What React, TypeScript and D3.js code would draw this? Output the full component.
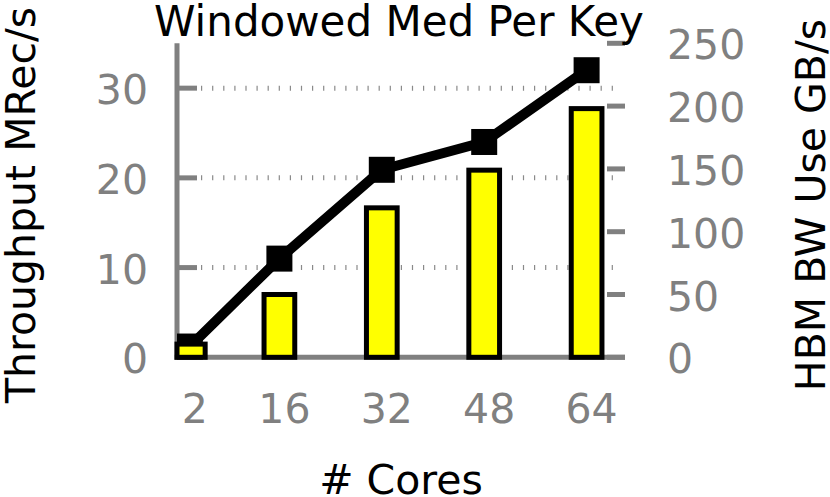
import * as d3 from "d3";
import { useEffect, useRef } from "react";

const cores = [2, 16, 32, 48, 64];
const throughput = [1.2, 11.0, 20.9, 24.0, 32.0];
const hbmBw = [10.5, 50, 119, 149, 198];
const leftTicks = [0, 10, 20, 30];
const rightTicks = [0, 50, 100, 150, 200, 250];
const gridTicks = [10, 20, 30];

const W = 830;
const H = 497;
const FONT = "DejaVu Sans, sans-serif";
const GRAY = "#808080";

const App = () => {
	const chartRef = useRef<SVGSVGElement>(null);

	useEffect(() => {
		const svg = d3.select(chartRef.current);
		svg.selectAll("*").remove();

		const x = d3.scaleLinear().domain([0, 70]).range([177, 625]);
		const yL = d3.scaleLinear().domain([0, 35]).range([357.3, 43.3]);
		const yR = d3.scaleLinear().domain([0, 250]).range([357.3, 43.3]);
		const barW = 4.8;

		svg.append("defs")
			.append("clipPath")
			.attr("id", "plot-clip")
			.append("rect")
			.attr("x", x(0))
			.attr("y", 0)
			.attr("width", x(70) - x(0))
			.attr("height", yL(0) + 3);

		// dotted grid
		svg.append("g")
			.selectAll("line")
			.data(gridTicks)
			.enter()
			.append("line")
			.attr("x1", 201)
			.attr("x2", 619)
			.attr("y1", d => yL(d))
			.attr("y2", d => yL(d))
			.attr("stroke", "#8a8a8a")
			.attr("stroke-width", 5)
			.attr("stroke-dasharray", "1.2 9.9");

		// axis lines
		svg.append("line")
			.attr("x1", x(0)).attr("x2", x(0))
			.attr("y1", yL(35)).attr("y2", yL(0) + 2.5)
			.attr("stroke", GRAY).attr("stroke-width", 5);
		svg.append("line")
			.attr("x1", x(0) - 2.5).attr("x2", x(70))
			.attr("y1", yL(0)).attr("y2", yL(0))
			.attr("stroke", GRAY).attr("stroke-width", 5);

		// left ticks + labels
		svg.append("g")
			.selectAll("line")
			.data(leftTicks)
			.enter()
			.append("line")
			.attr("x1", x(0)).attr("x2", x(0) + 20)
			.attr("y1", d => yL(d)).attr("y2", d => yL(d))
			.attr("stroke", GRAY).attr("stroke-width", 5);
		svg.append("g")
			.selectAll("text")
			.data(leftTicks)
			.enter()
			.append("text")
			.attr("x", 148)
			.attr("y", d => yL(d) + 16)
			.attr("text-anchor", "end")
			.style("font-family", FONT)
			.style("font-size", "41px")
			.attr("fill", GRAY)
			.text(d => d);

		// right ticks + labels
		svg.append("g")
			.selectAll("line")
			.data(rightTicks)
			.enter()
			.append("line")
			.attr("x1", x(70) - 18).attr("x2", x(70))
			.attr("y1", d => yR(d)).attr("y2", d => yR(d))
			.attr("stroke", GRAY).attr("stroke-width", 5);
		svg.append("g")
			.selectAll("text")
			.data(rightTicks)
			.enter()
			.append("text")
			.attr("x", 667)
			.attr("y", d => yR(d) + 16)
			.style("font-family", FONT)
			.style("font-size", "41px")
			.attr("fill", GRAY)
			.text(d => d);

		// x labels
		svg.append("g")
			.selectAll("text")
			.data(cores)
			.enter()
			.append("text")
			.attr("x", d => x(d) + 5)
			.attr("y", 423)
			.attr("text-anchor", "middle")
			.style("font-family", FONT)
			.style("font-size", "41px")
			.attr("fill", GRAY)
			.text(d => d);

		// throughput line
		const pts = cores.map((c, i) => [c, throughput[i]] as [number, number]);
		const lineG = svg.append("g").attr("clip-path", "url(#plot-clip)");
		lineG.append("path")
			.datum(pts)
			.attr("d", d3.line<[number, number]>().x(d => x(d[0])).y(d => yL(d[1])))
			.attr("fill", "none")
			.attr("stroke", "black")
			.attr("stroke-width", 10);
		lineG.selectAll("rect")
			.data(pts)
			.enter()
			.append("rect")
			.attr("x", d => x(d[0]) - 13)
			.attr("y", d => yL(d[1]) - 13)
			.attr("width", 26)
			.attr("height", 26)
			.attr("fill", "black");

		// HBM bars
		svg.append("g")
			.selectAll("rect")
			.data(cores)
			.enter()
			.append("rect")
			.attr("x", d => Math.max(x(d - barW / 2), x(0)))
			.attr("y", (d, i) => yR(hbmBw[i]))
			.attr("width", d => x(d + barW / 2) - Math.max(x(d - barW / 2), x(0)))
			.attr("height", (d, i) => yR(0) - yR(hbmBw[i]))
			.attr("fill", "#ffff00")
			.attr("stroke", "black")
			.attr("stroke-width", 5);

		// titles
		svg.append("text")
			.attr("x", 399)
			.attr("y", 36)
			.attr("text-anchor", "middle")
			.style("font-family", FONT)
			.style("font-size", "42px")
			.attr("fill", "black")
			.text("Windowed Med Per Key");
		svg.append("text")
			.attr("x", 401)
			.attr("y", 494)
			.attr("text-anchor", "middle")
			.style("font-family", FONT)
			.style("font-size", "41px")
			.attr("fill", "black")
			.text("# Cores");
		svg.append("text")
			.attr("transform", "translate(35, 403) rotate(-90)")
			.style("font-family", FONT)
			.style("font-size", "41px")
			.attr("fill", "black")
			.text("Throughput MRec/s");
		svg.append("text")
			.attr("transform", "translate(825, 205) rotate(-90)")
			.attr("text-anchor", "middle")
			.style("font-family", FONT)
			.style("font-size", "41px")
			.attr("fill", "black")
			.text("HBM BW Use GB/s");
	}, []);

	return (
		<svg
			ref={chartRef}
			width={W}
			height={H}
			style={{ position: "absolute", left: 0, top: 0, background: "white" }}
		></svg>
	);
};

export default App;
